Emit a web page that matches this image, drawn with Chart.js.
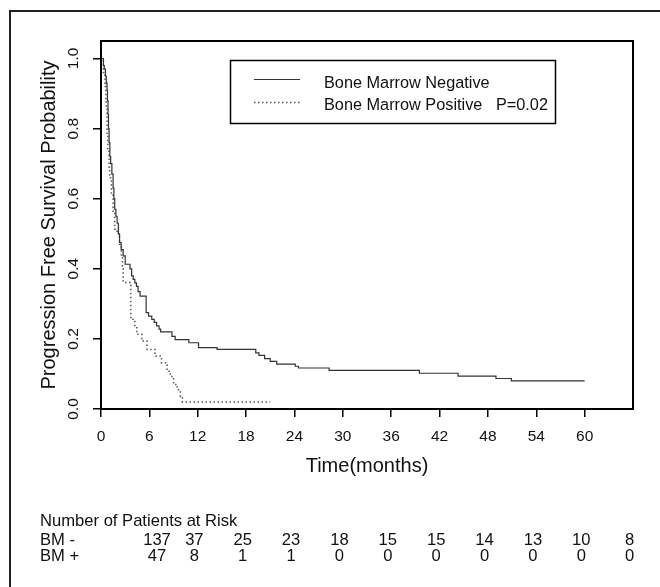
<!DOCTYPE html>
<html>
<head>
<meta charset="utf-8">
<script src="https://cdn.jsdelivr.net/npm/chart.js@4.4.0/dist/chart.umd.min.js"></script>
<style>
  html, body { margin: 0; padding: 0; background: #fff; }
  #wrap { position: relative; width: 660px; height: 587px; overflow: hidden; }
  #frame { position: absolute; left: 9px; top: 10px; width: 700px; height: 700px; border: 2px solid #222; pointer-events: none; }
</style>
</head>
<body>
<div id="wrap">
  <canvas id="km" width="660" height="587"></canvas>
  <div id="frame"></div>
</div>
<script>
// Kaplan-Meier steps (time in months, survival)
const negTimes = [0, 0.3, 0.4, 0.55, 0.65, 0.75, 0.8, 0.87, 0.93, 1.0, 1.1, 1.2, 1.35, 1.5, 1.6, 1.7, 1.85, 2.0, 2.15, 2.3, 2.5, 2.75, 3.0, 3.6, 3.8, 4.0, 4.2, 4.4, 4.6, 4.85, 5.6, 5.9, 6.3, 6.6, 6.9, 7.2, 7.4, 8.8, 9.2, 10.9, 12.1, 14.4, 19.2, 19.6, 20.3, 21.0, 21.8, 24.1, 24.5, 28.3, 39.5, 44.3, 49.0, 50.9, 60];
const negSurv = [1.0, 0.98, 0.97, 0.95, 0.93, 0.91, 0.88, 0.84, 0.80, 0.76, 0.72, 0.70, 0.67, 0.63, 0.60, 0.57, 0.55, 0.53, 0.50, 0.475, 0.455, 0.437, 0.413, 0.40, 0.38, 0.37, 0.36, 0.35, 0.335, 0.322, 0.275, 0.265, 0.256, 0.247, 0.237, 0.228, 0.22, 0.207, 0.198, 0.189, 0.175, 0.17, 0.16, 0.153, 0.144, 0.136, 0.128, 0.122, 0.117, 0.11, 0.102, 0.094, 0.087, 0.08, 0.08];
const posTimes = [0, 0.3, 0.5, 0.6, 0.66, 0.75, 0.85, 1.0, 1.07, 1.29, 1.5, 1.7, 2.0, 2.3, 2.53, 2.66, 2.75, 3.7, 4.2, 4.45, 5.07, 5.7, 6.7, 7.5, 8.2, 8.6, 9.0, 9.45, 9.85, 10.1, 21];
const posSurv = [1.0, 0.96, 0.92, 0.88, 0.86, 0.78, 0.74, 0.69, 0.66, 0.61, 0.56, 0.513, 0.50, 0.47, 0.437, 0.40, 0.361, 0.256, 0.232, 0.213, 0.194, 0.17, 0.151, 0.132, 0.108, 0.093, 0.07, 0.055, 0.036, 0.02, 0.02];

const xTicks = [0, 6, 12, 18, 24, 30, 36, 42, 48, 54, 60];
const yTicks = [0, 0.2, 0.4, 0.6, 0.8, 1.0];

const riskTimes = [0, 6, 12, 18, 24, 30, 36, 42, 48, 54, 60];
const riskNeg = [137, 37, 25, 23, 18, 15, 15, 14, 13, 10, 8];
const riskPos = [47, 8, 1, 1, 0, 0, 0, 0, 0, 0, 0];
const riskRows = ['BM -', 'BM +'];

const FAMILY = '"Liberation Sans", Arial, sans-serif';
const INK = '#111';

function toPoints(times, surv) {
  return times.map((t, i) => ({ x: t, y: surv[i] }));
}

// box round the plot area
const plotBox = {
  id: 'plotBox',
  afterDraw(chart) {
    const { ctx, chartArea: a } = chart;
    ctx.save();
    ctx.strokeStyle = '#000';
    ctx.lineWidth = 2;
    ctx.strokeRect(a.left, a.top, a.right - a.left, a.bottom - a.top);
    ctx.restore();
  }
};

// legend box inside the plot, like the R one
const kmLegend = {
  id: 'kmLegend',
  afterDraw(chart) {
    const ctx = chart.ctx;
    ctx.save();
    ctx.strokeStyle = '#000';
    ctx.lineWidth = 1.5;
    ctx.strokeRect(230.5, 60.5, 325, 63);
    ctx.font = '16.3px ' + FAMILY;
    ctx.fillStyle = INK;
    ctx.textBaseline = 'alphabetic';
    chart.data.datasets.forEach((ds, i) => {
      const y = 79 + i * 23;
      ctx.beginPath();
      ctx.strokeStyle = ds.borderColor;
      ctx.lineWidth = ds.borderWidth;
      ctx.setLineDash(ds.borderDash || []);
      ctx.moveTo(254, y + 0.5);
      ctx.lineTo(300, y + 0.5);
      ctx.stroke();
      ctx.setLineDash([]);
      ctx.fillText(ds.label, 324, 88 + i * 22);
    });
    ctx.restore();
  }
};

// number at risk table under the x axis
const riskTable = {
  id: 'riskTable',
  afterDraw(chart) {
    const { ctx } = chart;
    const xs = chart.scales.x;
    ctx.save();
    ctx.font = '16.6px ' + FAMILY;
    ctx.fillStyle = INK;
    ctx.textBaseline = 'middle';
    ctx.textAlign = 'left';
    ctx.fillText('Number of Patients at Risk', 40, 521);
    ctx.fillText(riskRows[0], 40, 540);
    ctx.fillText(riskRows[1], 40, 556);
    ctx.textAlign = 'center';
    riskTimes.forEach((t, i) => {
      // first column sits a little further right in the original
      const px = xs.getPixelForValue(t) + (i === 0 ? 56 : 45);
      ctx.fillText(String(riskNeg[i]), px, 540);
      ctx.fillText(String(riskPos[i]), px, 556);
    });
    ctx.restore();
  }
};

const tickFont = { family: FAMILY, size: 15.5 };
const titleFont = { family: FAMILY, size: 20 };

new Chart(document.getElementById('km'), {
  type: 'line',
  data: {
    datasets: [
      {
        label: 'Bone Marrow Negative',
        data: toPoints(negTimes, negSurv),
        stepped: 'before',
        borderColor: '#333',
        borderWidth: 1.2,
        pointRadius: 0,
        fill: false
      },
      {
        label: 'Bone Marrow Positive   P=0.02',
        data: toPoints(posTimes, posSurv),
        stepped: 'before',
        borderColor: '#555',
        borderWidth: 1.5,
        borderDash: [1.5, 2.5],
        pointRadius: 0,
        fill: false
      }
    ]
  },
  options: {
    responsive: false,
    animation: false,
    devicePixelRatio: 1,
    layout: { padding: { top: 41, right: 27, left: 0, bottom: 0 } },
    plugins: { legend: { display: false }, tooltip: { enabled: false } },
    scales: {
      x: {
        type: 'linear',
        min: 0,
        max: 66,
        afterBuildTicks: (s) => { s.ticks = xTicks.map((v) => ({ value: v })); },
        afterFit: (s) => { s.height = 178; },
        grid: { display: true, drawOnChartArea: false, drawTicks: true, tickLength: 8, color: '#000', lineWidth: 1.5 },
        border: { display: true, color: '#000', width: 2 },
        ticks: { font: tickFont, color: INK, padding: 10, maxRotation: 0, autoSkip: false },
        title: { display: true, text: 'Time(months)', font: titleFont, color: INK, padding: { top: 0, bottom: 109 } }
      },
      y: {
        min: 0,
        max: 1.05,
        afterBuildTicks: (s) => { s.ticks = yTicks.map((v) => ({ value: v })); },
        afterFit: (s) => { s.width = 101; },
        grid: { display: true, drawOnChartArea: false, drawTicks: true, tickLength: 8, color: '#000', lineWidth: 1.5 },
        border: { display: true, color: '#000', width: 2 },
        ticks: {
          font: tickFont, color: INK, padding: 9,
          minRotation: 90, maxRotation: 90, crossAlign: 'center',
          callback: (v) => Number(v).toFixed(1)
        },
        title: { display: true, text: 'Progression Free Survival Probability', font: titleFont, color: INK, padding: { top: 37, bottom: 0 } }
      }
    }
  },
  plugins: [plotBox, kmLegend, riskTable]
});
</script>
</body>
</html>
